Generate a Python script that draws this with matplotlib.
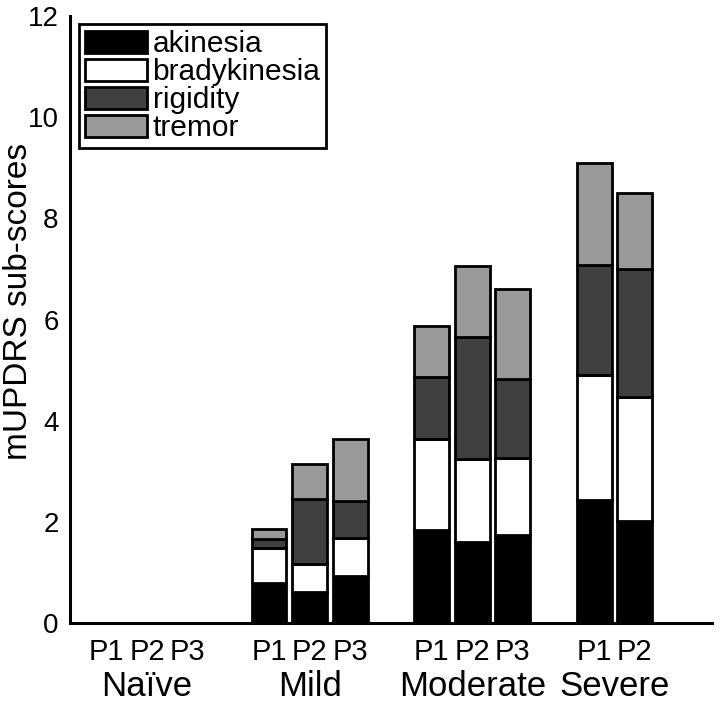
import numpy as np
import matplotlib.pyplot as plt
from matplotlib.patches import Patch

plt.rcParams['font.family'] = ['Liberation Sans', 'DejaVu Sans']

groups = ["Naïve", "Mild", "Moderate", "Severe"]
patients = ["P1", "P2", "P3", "P1", "P2", "P3", "P1", "P2", "P3", "P1", "P2"]
group_of = [0, 0, 0, 1, 1, 1, 2, 2, 2, 3, 3]

akinesia = [0, 0, 0, 0.80, 0.62, 0.94, 1.84, 1.61, 1.75, 2.44, 2.02]
bradykinesia = [0, 0, 0, 0.69, 0.54, 0.75, 1.79, 1.64, 1.52, 2.46, 2.45]
rigidity = [0, 0, 0, 0.18, 1.30, 0.72, 1.24, 2.41, 1.56, 2.18, 2.54]
tremor = [0, 0, 0, 0.18, 0.68, 1.23, 1.00, 1.40, 1.77, 2.01, 1.49]

names = ["akinesia", "bradykinesia", "rigidity", "tremor"]
colors = ["#000000", "#ffffff", "#404040", "#999999"]

# position of each bar: groups separated by one empty slot
x = np.array([i + g for i, g in enumerate(group_of)], dtype=float)

fig = plt.figure(figsize=(7.2, 7.04), dpi=100)
ax = fig.add_axes([0.097, 0.115, 0.892, 0.862])

bottom = np.zeros(len(x))
for vals, col in zip([akinesia, bradykinesia, rigidity, tremor], colors):
    vals = np.array(vals)
    mask = vals > 0
    ax.bar(x[mask], vals[mask], width=0.86, bottom=bottom[mask], color=col,
           edgecolor="black", linewidth=2.0)
    bottom += vals

ax.set_xlim(-0.9, 14.9)
ax.set_ylim(0, 12)
ax.set_yticks(range(0, 13, 2))
ax.set_xticks(x)
ax.set_xticklabels(patients)
ax.tick_params(axis="both", length=0, labelsize=20)
ax.tick_params(axis="x", pad=11, labelsize=21)
ax.tick_params(axis="y", pad=8)
ax.set_ylabel("mUPDRS sub-scores", fontsize=24)
ax.yaxis.set_label_coords(-0.056, 0.53)

for s in ["top", "right"]:
    ax.spines[s].set_visible(False)
for s in ["left", "bottom"]:
    ax.spines[s].set_linewidth(2.2)

for g, name in enumerate(groups):
    xs = x[np.array(group_of) == g]
    ax.text(xs.mean(), -0.077, name, transform=ax.get_xaxis_transform(),
            ha="center", va="top", fontsize=25)

handles = [Patch(facecolor=c, edgecolor="black", linewidth=2.0, label=n)
           for n, c in zip(names, colors)]
leg = ax.legend(handles=handles, loc="upper left", bbox_to_anchor=(0.014, 0.987),
                fontsize=21.5, fancybox=False, framealpha=1, edgecolor="black",
                handlelength=2.07, handleheight=0.77, handletextpad=0.2,
                labelspacing=0.0, borderpad=0.2, borderaxespad=0)
leg.get_frame().set_linewidth(2.0)

fig.savefig("out.png", dpi=100)
